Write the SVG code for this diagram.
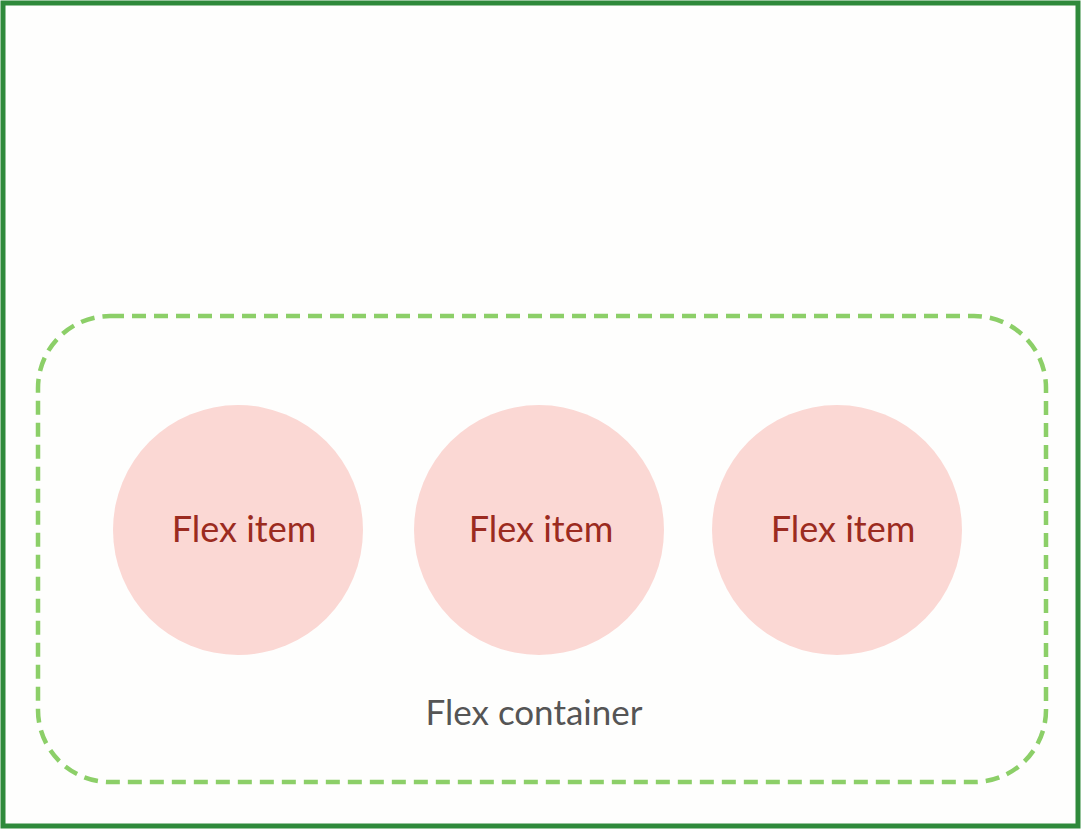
<svg xmlns="http://www.w3.org/2000/svg" width="1081" height="829" viewBox="0 0 1081 829">
  <style>
    .frame { fill: #fefefd; stroke: #2f8a3b; stroke-width: 5; }
    .container { fill: none; stroke: #8ccf68; stroke-width: 4.5; stroke-dasharray: 14 8; }
    .item { fill: #fbd8d4; }
    .item-label { font-family: Lato, "Open Sans", sans-serif; font-size: 36px; fill: #9b2b20; text-anchor: middle; }
    .container-label { font-family: Lato, "Open Sans", sans-serif; font-size: 35px; fill: #555555; text-anchor: middle; }
  </style>
  <rect class="frame" x="3" y="3" width="1075" height="823"/>
  <g id="flex-container">
    <rect class="container" x="38" y="316" width="1008" height="466" rx="72" ry="72"/>
    <text class="container-label" x="534" y="725">Flex container</text>
  </g>
  <g id="item-1">
    <circle class="item" cx="238" cy="530" r="125"/>
    <text class="item-label" x="244" y="542">Flex item</text>
  </g>
  <g id="item-2">
    <circle class="item" cx="539" cy="530" r="125"/>
    <text class="item-label" x="541" y="542">Flex item</text>
  </g>
  <g id="item-3">
    <circle class="item" cx="837" cy="530" r="125"/>
    <text class="item-label" x="843" y="542">Flex item</text>
  </g>
  <g id="connectors"/>
</svg>
